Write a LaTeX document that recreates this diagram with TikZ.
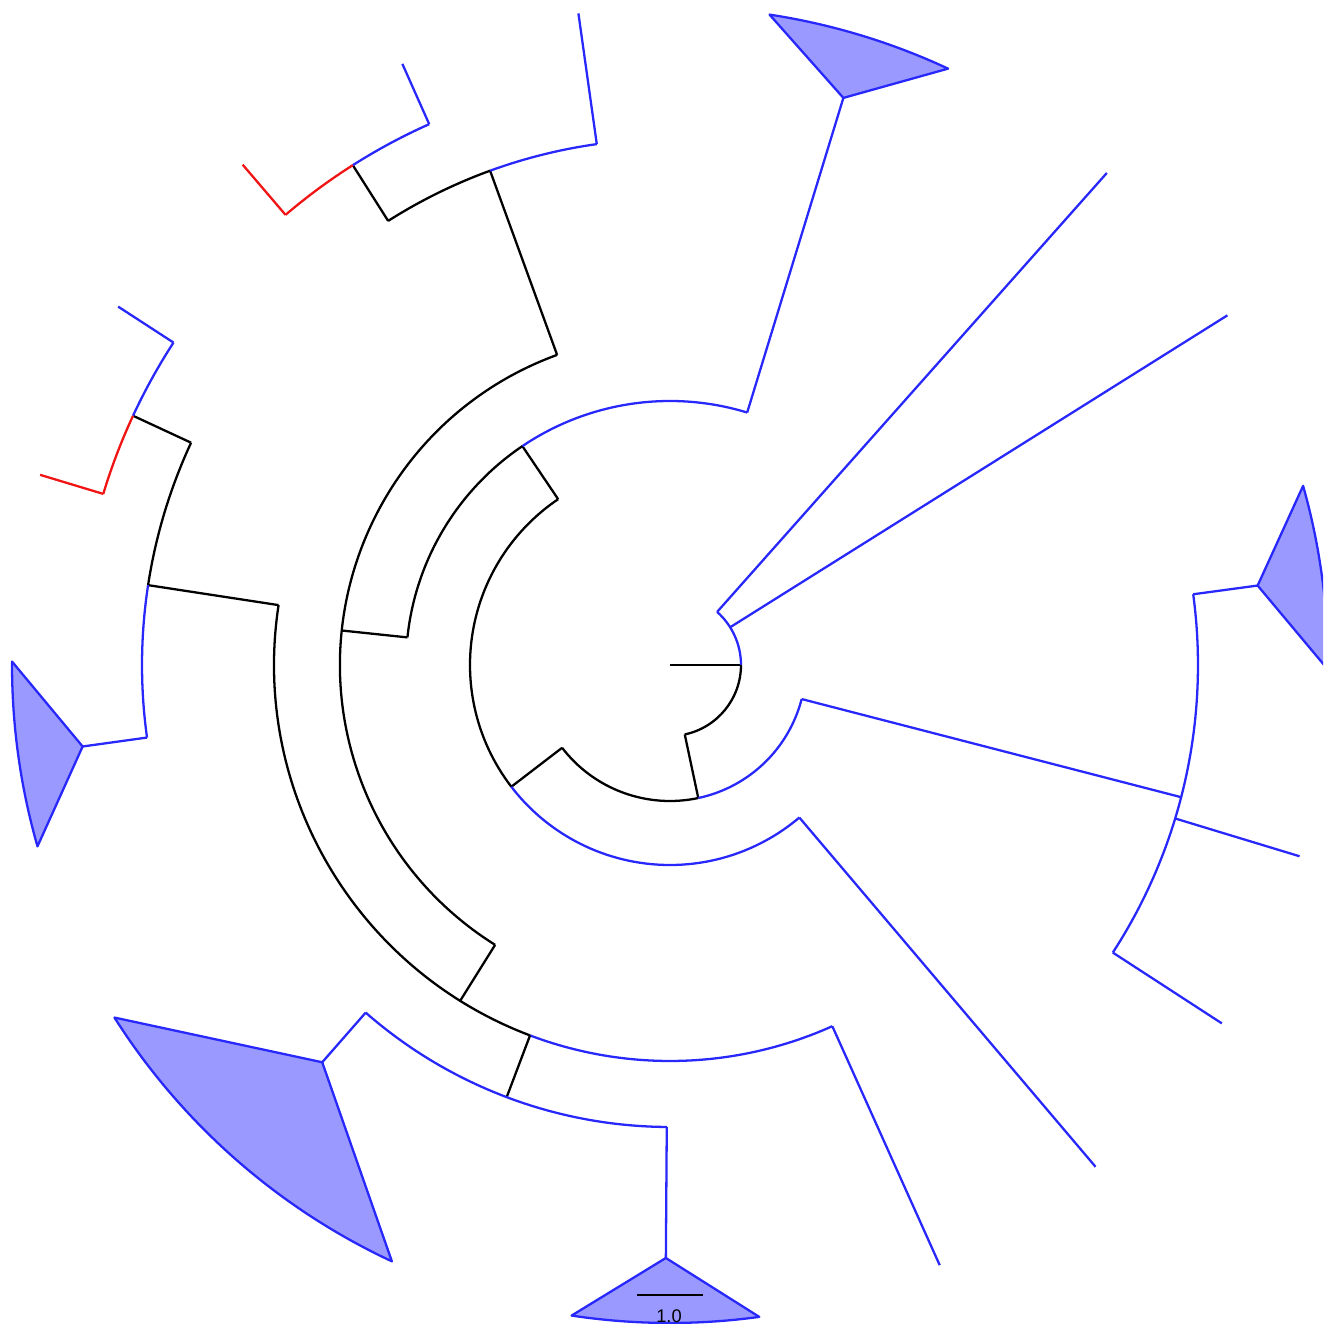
\documentclass[tikz,border=0pt]{standalone}
\usepackage{fontspec}
\setmainfont{Liberation Sans}
\usetikzlibrary{positioning}
\definecolor{treeblue}{RGB}{40,40,252}
\definecolor{treered}{RGB}{240,20,20}
\definecolor{cladefill}{RGB}{153,153,255}

\begin{document}
\begin{tikzpicture}[
    x=0.01cm, y=0.01cm,
    blk/.style={draw=black,line width=0.65pt,line join=miter},
    blu/.style={draw=treeblue,line width=0.65pt},
    rd/.style={draw=treered,line width=0.65pt},
    clade/.style={draw=treeblue,fill=cladefill,line width=0.65pt,line join=round}
  ]
    \useasboundingbox (-670,-659) rectangle (653,665);
    \clip (-670,-659) rectangle (653,665);

    % root
    \draw[blk] (0:0) -- (0:71);
    \draw[blu] (0:71) arc[start angle=0,end angle=48.4,radius=71];
    \draw[blk] (0:71) arc[start angle=0,end angle=-78,radius=71];
    \draw[blu] (48.4:71) -- (48.4:658);
    \draw[blu] (32.1:71) -- (32.1:658);

    % inner node
    \draw[blk] (-78:71) -- (-78:136);
    \draw[blu] (-78:136) arc[start angle=-78,end angle=-14.5,radius=136];
    \draw[blk] (-78:136) arc[start angle=-78,end angle=-142.5,radius=136];

    % right clade
    \draw[blu] (-14.5:136) -- (-14.5:528);
    \draw[blu] (-33:528) arc[start angle=-33,end angle=7.7,radius=528];
    \draw[blu] (-16.9:528) -- (-16.9:658);
    \draw[blu] (-33:528) -- (-33:658);
    \draw[blu] (7.7:528) -- (7.7:593);
    \draw[clade] (7.7:593) -- (15.8:658)
      arc[start angle=15.8,end angle=-0.4,radius=658] -- cycle;

    % left part
    \draw[blk] (217.5:136) -- (217.5:200);
    \draw[blk] (217.5:200) arc[start angle=217.5,end angle=124,radius=200];
    \draw[blu] (217.5:200) arc[start angle=217.5,end angle=310.3,radius=200];
    \draw[blu] (310.3:200) -- (310.3:658);

    \draw[blk] (124:200) -- (124:264);
    \draw[blu] (124:264) arc[start angle=124,end angle=73,radius=264];
    \draw[blk] (124:264) arc[start angle=124,end angle=174,radius=264];
    \draw[blu] (73:264) -- (73:593);
    \draw[clade] (73:593) -- (81.3:658)
      arc[start angle=81.3,end angle=65,radius=658] -- cycle;

    \draw[blk] (174:264) -- (174:330);
    \draw[blk] (110:330) arc[start angle=110,end angle=238,radius=330];

    % upper left
    \draw[blk] (110:330) -- (110:526);
    \draw[blu] (110:526) arc[start angle=110,end angle=98,radius=526];
    \draw[blk] (110:526) arc[start angle=110,end angle=122.4,radius=526];
    \draw[blu] (98:526) -- (98:658);
    \draw[blk] (122.4:526) -- (122.4:592);
    \draw[blu] (122.4:592) arc[start angle=122.4,end angle=114,radius=592];
    \draw[rd] (122.4:592) arc[start angle=122.4,end angle=130.5,radius=592];
    \draw[blu] (114:592) -- (114:658);
    \draw[rd] (130.5:592) -- (130.5:658);

    % lower left
    \draw[blk] (238:330) -- (238:396);
    \draw[blk] (171.3:396) arc[start angle=171.3,end angle=249.3,radius=396];
    \draw[blu] (249.3:396) arc[start angle=249.3,end angle=294.2,radius=396];
    \draw[blu] (294.2:396) -- (294.2:658);

    \draw[blk] (171.3:396) -- (171.3:528);
    \draw[blk] (171.3:528) arc[start angle=171.3,end angle=155.1,radius=528];
    \draw[blu] (171.3:528) arc[start angle=171.3,end angle=187.9,radius=528];
    \draw[blu] (187.9:528) -- (187.9:593);
    \draw[clade] (187.9:593) -- (179.7:658)
      arc[start angle=179.7,end angle=196,radius=658] -- cycle;
    \draw[blk] (155.1:528) -- (155.1:592);
    \draw[blu] (155.1:592) arc[start angle=155.1,end angle=147,radius=592];
    \draw[rd] (155.1:592) arc[start angle=155.1,end angle=163.2,radius=592];
    \draw[blu] (147:592) -- (147:658);
    \draw[rd] (163.2:592) -- (163.2:658);

    \draw[blk] (249.3:396) -- (249.3:462);
    \draw[blu] (228.8:462) arc[start angle=228.8,end angle=269.6,radius=462];
    \draw[blu] (269.6:462) -- (269.6:593);
    \draw[clade] (269.6:593) -- (261.4:658)
      arc[start angle=261.4,end angle=277.8,radius=658] -- cycle;
    \draw[blu] (228.8:462) -- (228.8:528);
    \draw[clade] (228.8:528) -- (212.4:658)
      arc[start angle=212.4,end angle=245,radius=658] -- cycle;

    % scale bar
    \coordinate (barL) at (-33,-630);
    \coordinate (barR) at (33,-630);
    \draw[blk] (barL) -- (barR);
    \node[font=\fontsize{5.2}{6}\selectfont,inner sep=0pt] (barlbl) at (-1,-651) {1.0};
  \end{tikzpicture}
\end{document}
